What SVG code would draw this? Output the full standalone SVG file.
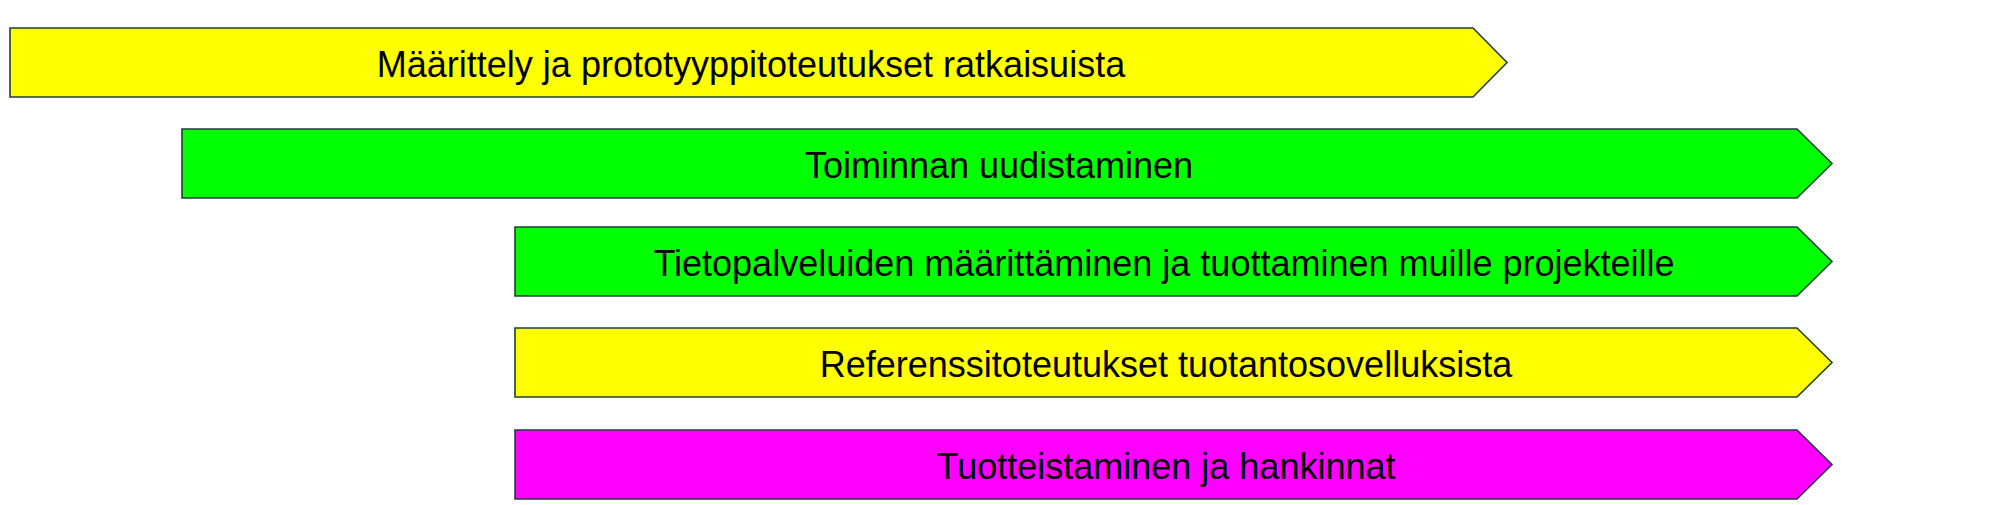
<svg xmlns="http://www.w3.org/2000/svg" width="2000" height="505" viewBox="0 0 2000 505">
  <style>
    .bar { stroke: #1f3f3a; stroke-width: 1.6; stroke-linejoin: miter; }
    .yellow { fill: #ffff00; }
    .green { fill: #00ff00; }
    .magenta { fill: #ff00ff; }
    .label { font-family: "Liberation Sans", Arial, sans-serif; font-size: 36px; fill: #000000; text-anchor: middle; }
  </style>
  <rect x="0" y="0" width="2000" height="505" fill="#ffffff"/>
  <g id="connectors"></g>
  <g id="node-maarittely">
    <polygon class="bar yellow" points="10,28 1473,28 1507,62.5 1473,97 10,97"/>
    <text class="label" x="751" y="76.5">Määrittely ja prototyyppitoteutukset ratkaisuista</text>
  </g>
  <g id="node-toiminnan">
    <polygon class="bar green" points="182,129 1797,129 1832,163.5 1797,198 182,198"/>
    <text class="label" x="999" y="177.5">Toiminnan uudistaminen</text>
  </g>
  <g id="node-tietopalvelut">
    <polygon class="bar green" points="515,227 1797,227 1832,261.5 1797,296 515,296"/>
    <text class="label" x="1164" y="276">Tietopalveluiden määrittäminen ja tuottaminen muille projekteille</text>
  </g>
  <g id="node-referenssi">
    <polygon class="bar yellow" points="515,328 1797,328 1832,362.5 1797,397 515,397"/>
    <text class="label" x="1166" y="377">Referenssitoteutukset tuotantosovelluksista</text>
  </g>
  <g id="node-tuotteistaminen">
    <polygon class="bar magenta" points="515,430 1797,430 1832,464.5 1797,499 515,499"/>
    <text class="label" x="1166" y="479">Tuotteistaminen ja hankinnat</text>
  </g>
</svg>
